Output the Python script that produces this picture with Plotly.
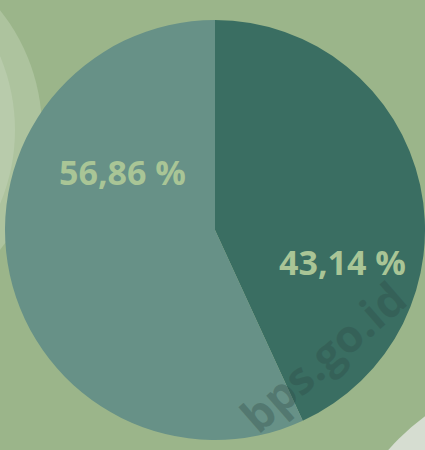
import plotly.graph_objects as go

# Data
categories = ["Kategori A", "Kategori B"]
values = [43.14, 56.86]
slice_colors = ["#3a6e62", "#679187"]
labels_text = [f"{v:.2f}".replace(".", ",") + " %" for v in values]

W, H = 425, 450
cx_px, cy_px, r_px = 215, 230, 210

fig = go.Figure()
fig.add_trace(go.Pie(
    labels=categories,
    values=values,
    sort=False,
    direction="clockwise",
    rotation=0,
    marker=dict(colors=slice_colors, line=dict(width=0)),
    textinfo="none",
    hoverinfo="label+percent",
    showlegend=False,
    domain=dict(x=[(cx_px - r_px) / W, (cx_px + r_px) / W],
                y=[1 - (cy_px + r_px) / H, 1 - (cy_px - r_px) / H]),
))


def circ(cx, cy, r, color):
    return dict(type="circle", xref="paper", yref="paper", layer="below",
                x0=(cx - r) / W, x1=(cx + r) / W,
                y0=1 - (cy + r) / H, y1=1 - (cy - r) / H,
                fillcolor=color, line=dict(width=0))


# decorative background arcs
shapes = [
    circ(-150, 130, 192, "#adc39e"),
    circ(-175, 130, 190, "#b8cbab"),
    circ(-200, 130, 188, "#c4d3ba"),
    circ(560, 600, 228, "#d6ddd1"),
]

label_pos = [(342, 262), (122, 172)]
annotations = []
for txt, (px, py) in zip(labels_text, label_pos):
    annotations.append(dict(
        x=px / W, y=1 - py / H, xref="paper", yref="paper",
        text=txt, showarrow=False,
        font=dict(family="Open Sans", size=34, color="#a9c596", weight="bold"),
        xanchor="center", yanchor="middle",
    ))

# watermark
annotations.append(dict(
    x=322 / W, y=1 - 356 / H, xref="paper", yref="paper",
    text="bps.go.id", showarrow=False, textangle=-41,
    font=dict(family="Open Sans", size=45, color="rgba(45,75,70,0.35)", weight="bold"),
    xanchor="center", yanchor="middle",
))

fig.update_layout(
    width=W, height=H,
    margin=dict(l=0, r=0, t=0, b=0),
    paper_bgcolor="#9bb58a",
    plot_bgcolor="#9bb58a",
    shapes=shapes,
    annotations=annotations,
)

fig.write_html("out.html")
